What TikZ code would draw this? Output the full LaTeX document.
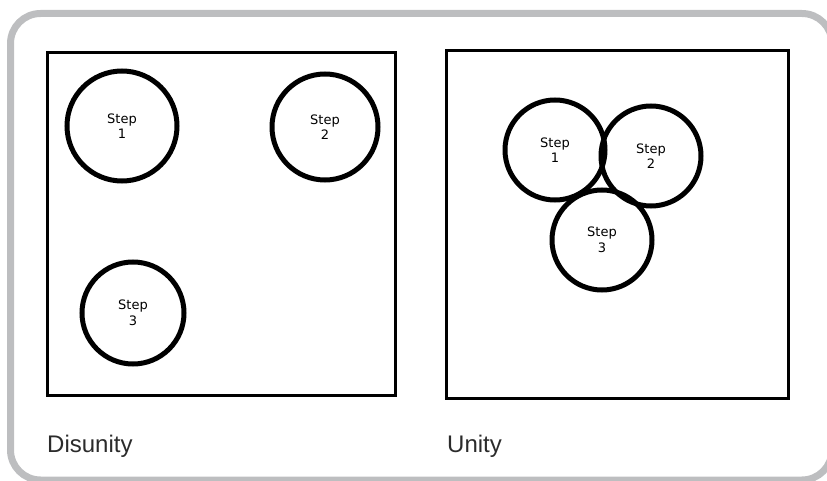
\documentclass[tikz,border=0pt]{standalone}
\usepackage{fontspec}
\setmainfont{Liberation Sans}
\newfontfamily\stepfont{DejaVu Sans}
\usetikzlibrary{positioning}
\definecolor{framegray}{HTML}{BDBEC0}
\definecolor{captiongray}{HTML}{2B2B2B}
\tikzset{
    panel/.style={draw=black, line width=3pt},
    stepcircle/.style={circle, draw=black, line width=5pt, minimum size=102pt, inner sep=0pt,
        align=center, font=\stepfont\fontsize{13pt}{15.5pt}\selectfont},
    caption/.style={anchor=base west, inner sep=0pt, text=captiongray,
        font=\fontsize{24pt}{27pt}\selectfont}
}
\begin{document}
\begin{tikzpicture}[x=1pt, y=-1pt]
        \useasboundingbox (0,0) rectangle (827,481);
        \clip (0,0) rectangle (827,481);
        % outer frame
        \draw[framegray, line width=7pt, rounded corners=30pt] (10.5,13.5) rectangle (832,480);

        % the two panels
        \draw[panel] (47,53) rectangle (395,395);
        \draw[panel] (446,51) rectangle (788,398);

        % disunity: steps apart
        \node[stepcircle, minimum size=110pt] (d1) at (122,126) {Step\\1};
        \node[stepcircle, minimum size=106pt] (d2) at (325,127) {Step\\2};
        \node[stepcircle] (d3) at (133,313) {Step\\3};

        % unity: steps overlapping
        \node[stepcircle, minimum size=100pt] (u1) at (555,150) {Step\\1};
        \node[stepcircle, minimum size=100pt] (u2) at (651,156) {Step\\2};
        \node[stepcircle, minimum size=100pt] (u3) at (602,240) {Step\\3};

        \node[caption] (dis) at (47,452) {Disunity};
        \node[caption] (uni) at (447,452) {Unity};
    \end{tikzpicture}
\end{document}
